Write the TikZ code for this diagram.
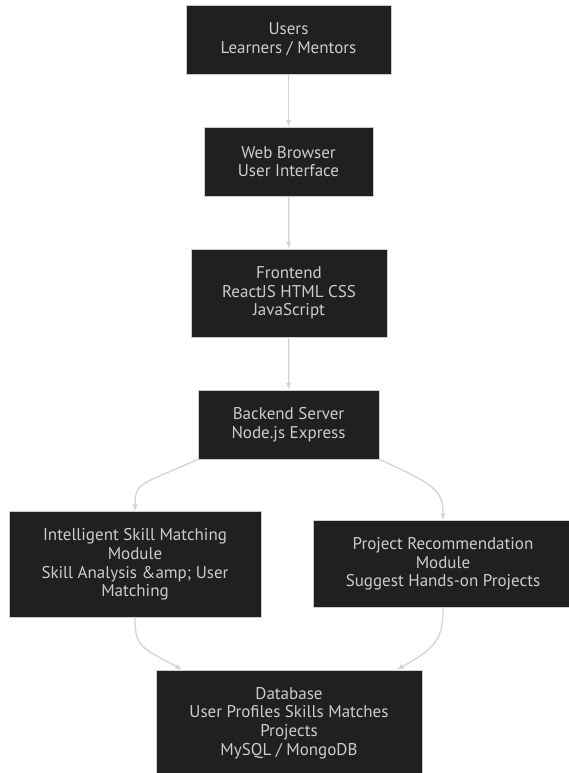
\documentclass[tikz,border=0pt]{standalone}
\usepackage{fontspec}
\setmainfont{PT Sans}
\usepackage{tikz}
\definecolor{boxfill}{HTML}{1F2020}
\definecolor{boxline}{HTML}{CCCCCC}
\definecolor{boxtext}{HTML}{CCCCCC}
\definecolor{edgegray}{HTML}{D3D3D3}
\tikzset{
  box/.style={rectangle, fill=boxfill, draw=boxline, line width=0.8pt,
    text=boxtext, align=center, inner sep=0pt,
    font=\fontsize{17}{18.7}\selectfont},
  edge/.style={->, draw=edgegray, line width=1.3pt}
}

\begin{document}
\begin{tikzpicture}[>=latex, x=1pt, y=-1pt]
    \useasboundingbox (0,0) rectangle (568,773);

    \draw(288.5,39.5) node[box, minimum width=205pt, minimum height=69pt] (users) {Users\\Learners / Mentors};
    \draw(288.5,161.5) node[box, minimum width=169pt, minimum height=69pt] (web) {Web Browser\\User Interface};
    \draw(289,293) node[box, minimum width=196pt, minimum height=88pt] (front) {Frontend\\ReactJS HTML CSS\\JavaScript};
    \draw(288.5,424.5) node[box, minimum width=181pt, minimum height=69pt] (back) {Backend Server\\Node.js Express};

    \draw(135,564.5) node[box, minimum width=252pt, minimum height=106pt] (skill) {Intelligent Skill Matching\\Module\\Skill Analysis \&amp; User\\Matching};
    \draw(443,564) node[box, minimum width=260pt, minimum height=87pt] (proj) {Project Recommendation\\Module\\Suggest Hands-on Projects};

    \draw(289,723) node[box, minimum width=266pt, minimum height=106pt] (db) {Database\\User Profiles Skills Matches\\Projects\\MySQL / MongoDB};

    \draw[edge] (users) -- (web);
    \draw[edge] (web) -- (front);
    \draw[edge] (front) -- (back);
    \draw[edge] (back.south west) .. controls +(-55,25) and +(0,-30) .. (skill.north);
    \draw[edge] (back.south east) .. controls +(55,25) and +(0,-30) .. (proj.north);
    \draw[edge] (skill.south) .. controls +(0,30) and +(-40,-22) .. ([xshift=-107pt]db.north);
    \draw[edge] (proj.south) .. controls +(0,30) and +(40,-22) .. ([xshift=108pt]db.north);

    \end{tikzpicture}
\end{document}
